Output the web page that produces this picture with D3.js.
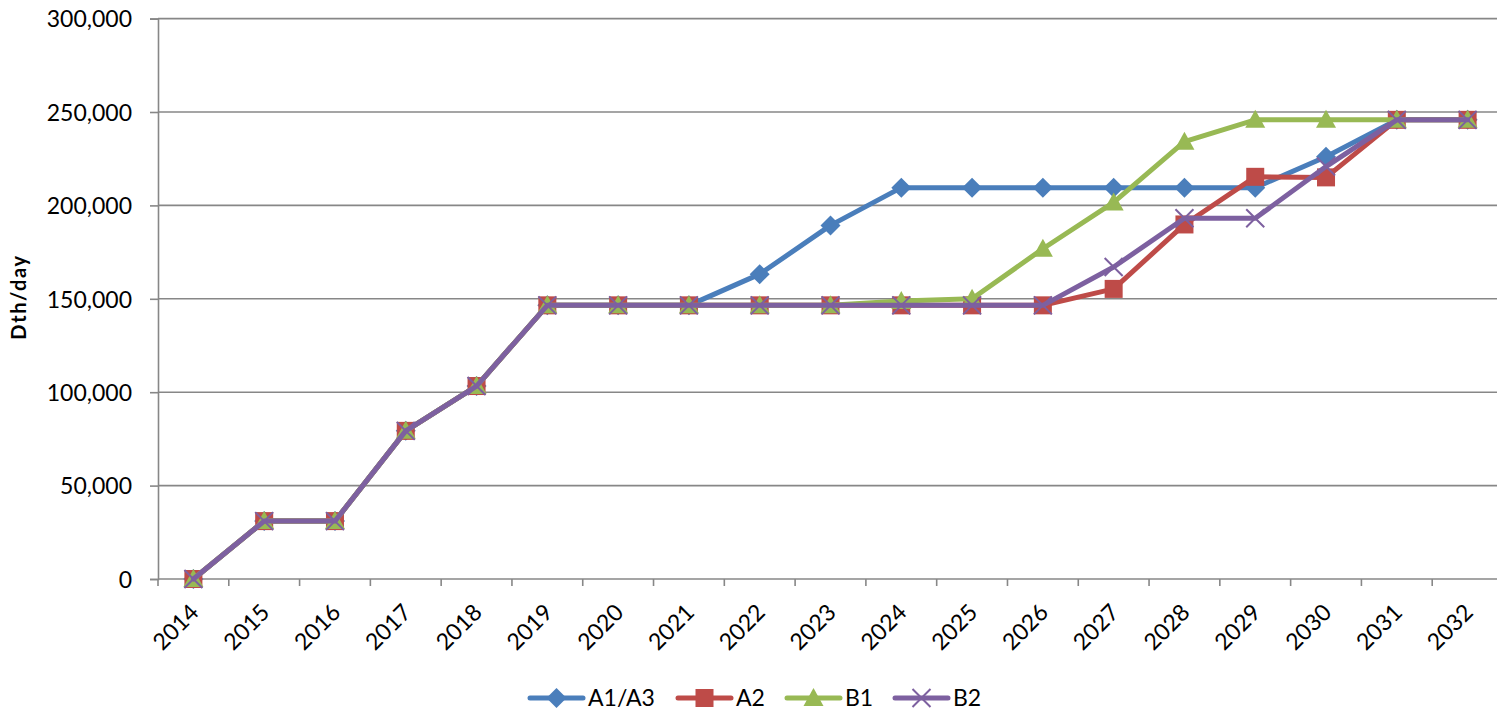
<!DOCTYPE html>
<html>
<head>
<meta charset="utf-8">
<script src="https://cdn.jsdelivr.net/npm/d3@7"></script>
<style>
  html, body { margin: 0; padding: 0; background: #fff; }
  svg { display: block; font-family: Lato, "Open Sans", sans-serif; }
</style>
</head>
<body>
<svg id="chart" width="1497" height="712"></svg>
<script>
// Annual capacity (Dth/day) under each scenario
const years = ["2014","2015","2016","2017","2018","2019","2020","2021","2022","2023",
               "2024","2025","2026","2027","2028","2029","2030","2031","2032"];
const a1a3 = [0, 31000, 31000, 79300, 103300, 146500, 146500, 146500, 163200, 189300,
              209500, 209500, 209500, 209500, 209500, 209500, 226000, 245800, 245800];
const a2   = [0, 31000, 31000, 79300, 103300, 146500, 146500, 146500, 146500, 146500,
              146500, 146500, 146500, 155300, 189800, 215300, 215000, 245800, 245800];
const b1   = [0, 31000, 31000, 79300, 103300, 146500, 146500, 146500, 146500, 146500,
              148800, 150000, 176800, 201600, 234100, 245800, 245800, 245800, 245800];
const b2   = [0, 31000, 31000, 79300, 103300, 146500, 146500, 146500, 146500, 146500,
              146500, 146500, 146500, 167000, 193100, 193100, 220800, 245800, 245800];
const yTicks = [0, 50000, 100000, 150000, 200000, 250000, 300000];

const series = [
  { name: "A1/A3", values: a1a3, color: "#4A7EBB", marker: "diamond" },
  { name: "A2",    values: a2,   color: "#BE4B48", marker: "square" },
  { name: "B1",    values: b1,   color: "#98B954", marker: "triangle" },
  { name: "B2",    values: b2,   color: "#7D60A0", marker: "cross" }
];

const svg = d3.select("#chart");
const plotLeft = 158, plotRight = 1503, plotTop = 18.6, plotBottom = 579;

const x = d3.scaleBand().domain(years).range([plotLeft, plotRight]).padding(0);
const y = d3.scaleLinear().domain([0, 300000]).range([plotBottom, plotTop]);
const cx = d => x(d) + x.bandwidth() / 2;
const fmt = d3.format(",");

// horizontal gridlines
svg.append("g").selectAll("line").data(yTicks.slice(1)).join("line")
  .attr("x1", plotLeft).attr("x2", plotRight)
  .attr("y1", d => y(d)).attr("y2", d => y(d))
  .attr("stroke", "#878787").attr("stroke-width", 1.6);

// y axis
const yAxis = svg.append("g").attr("transform", `translate(${plotLeft},0)`)
  .call(d3.axisLeft(y).tickValues(yTicks).tickFormat(fmt).tickSize(8).tickPadding(18));
yAxis.select(".domain").attr("stroke", "#878787").attr("stroke-width", 1.6);
yAxis.selectAll(".tick line").attr("stroke", "#878787").attr("stroke-width", 1.6);
yAxis.selectAll(".tick text").attr("font-size", 23).attr("fill", "#000")
  .attr("font-family", "Lato, sans-serif").attr("dy", "0.36em");

// x axis: ticks on category boundaries
const xg = svg.append("g");
xg.append("line").attr("x1", plotLeft).attr("x2", plotRight).attr("y1", plotBottom).attr("y2", plotBottom)
  .attr("stroke", "#878787").attr("stroke-width", 1.6);
xg.selectAll("line.tk").data(years).join("line").attr("class", "tk")
  .attr("x1", d => x(d)).attr("x2", d => x(d))
  .attr("y1", plotBottom).attr("y2", plotBottom + 7)
  .attr("stroke", "#878787").attr("stroke-width", 1.6);
xg.selectAll("text").data(years).join("text")
  .attr("transform", d => `translate(${cx(d) + 1},${plotBottom + 29}) rotate(-45)`)
  .attr("text-anchor", "end").attr("dy", "0.36em")
  .attr("font-size", 23).attr("fill", "#000")
  .text(d => d);

// y axis title
svg.append("text")
  .attr("transform", `translate(26,297) rotate(-90)`)
  .attr("text-anchor", "middle")
  .attr("font-size", 20).attr("font-weight", "bold").attr("fill", "#000")
  .attr("letter-spacing", 1.6)
  .text("Dth/day");

// marker drawing
function drawMarker(g, type, color, px, py) {
  if (type === "diamond") {
    g.append("path").attr("d", `M${px},${py-10}L${px+10},${py}L${px},${py+10}L${px-10},${py}Z`)
      .attr("fill", color);
  } else if (type === "square") {
    g.append("rect").attr("x", px - 9).attr("y", py - 9).attr("width", 18).attr("height", 18)
      .attr("fill", color);
  } else if (type === "triangle") {
    g.append("path").attr("d", `M${px},${py-10}L${px+10},${py+8}L${px-10},${py+8}Z`)
      .attr("fill", color);
  } else if (type === "cross") {
    g.append("path").attr("d", `M${px-9},${py-9}L${px+9},${py+9}M${px-9},${py+9}L${px+9},${py-9}`)
      .attr("stroke", color).attr("stroke-width", 2).attr("fill", "none");
  }
}

// series: line then markers, in series order
const line = d3.line().x((d, i) => cx(years[i])).y(d => y(d));
series.forEach(s => {
  const g = svg.append("g");
  g.append("path").datum(s.values).attr("d", line)
    .attr("fill", "none").attr("stroke", s.color).attr("stroke-width", 5)
    .attr("stroke-linejoin", "round").attr("stroke-linecap", "round");
  s.values.forEach((v, i) => drawMarker(g, s.marker, s.color, cx(years[i]), y(v)));
});

// legend
const legendX = [530, 678, 787, 895];
const ly = 698;
series.forEach((s, i) => {
  const g = svg.append("g");
  const x0 = legendX[i];
  g.append("line").attr("x1", x0).attr("x2", x0 + 53).attr("y1", ly).attr("y2", ly)
    .attr("stroke", s.color).attr("stroke-width", 5).attr("stroke-linecap", "round");
  drawMarker(g, s.marker, s.color, x0 + 26.5, ly);
  g.append("text").attr("x", x0 + 58).attr("y", ly).attr("dy", "0.36em")
    .attr("font-size", 23).attr("fill", "#000").text(s.name);
});
</script>
</body>
</html>
